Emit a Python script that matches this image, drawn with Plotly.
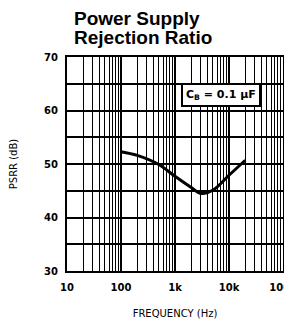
import plotly.graph_objects as go

# Data
freq_hz = [100, 200, 500, 1000, 2000, 3000, 5000, 10000, 20000]
psrr_db = [52.3, 51.6, 49.9, 47.7, 45.6, 44.5, 45.1, 47.9, 50.7]

x_tick_vals = [10, 100, 1000, 10000, 100000]
x_tick_text = ["10", "100", "1k", "10k", "100k"]
x_minor_vals = [m * d for d in [10, 100, 1000, 10000] for m in range(2, 10)]
y_tick_vals = [30, 40, 50, 60, 70]
y_minor_vals = [35, 45, 55, 65]
title_lines = ["Power Supply", "Rejection Ratio"]

fig = go.Figure()
fig.add_trace(go.Scatter(
    x=freq_hz, y=psrr_db, mode="lines",
    line=dict(color="black", width=3, shape="spline"),
    showlegend=False, hoverinfo="skip",
))

tick_font = dict(family="DejaVu Sans", size=10, color="black", weight="bold")

fig.update_xaxes(
    type="log", range=[0.99999, 5.00001], automargin=False,
    tickvals=x_tick_vals, ticktext=x_tick_text,
    tickfont=tick_font, ticks="", ticklabelstandoff=6,
    ticklabeloverflow="allow",
    showgrid=True, gridcolor="black", gridwidth=2,
    showline=True, linecolor="black", linewidth=2, mirror=True,
    minor=dict(tickvals=x_minor_vals, showgrid=True, gridcolor="black", gridwidth=1, ticks=""),
    title=dict(text="FREQUENCY (Hz)", font=dict(family="DejaVu Sans", size=10, color="black"), standoff=18),
    zeroline=False,
)
fig.update_yaxes(
    range=[30, 70], automargin=False,
    tickvals=y_tick_vals,
    tickfont=tick_font, ticks="", ticklabelstandoff=5,
    showgrid=True, gridcolor="black", gridwidth=2,
    showline=True, linecolor="black", linewidth=2, mirror=True,
    minor=dict(tickvals=y_minor_vals, showgrid=True, gridcolor="black", gridwidth=2, ticks=""),
    title=dict(text="PSRR (dB)", font=dict(family="DejaVu Sans", size=10, color="black"), standoff=25),
    zeroline=False,
)

fig.add_annotation(
    xref="paper", yref="paper", x=0.713, y=0.822,
    text="C<sub>B</sub> = 0.1 µF", showarrow=False,
    font=dict(family="DejaVu Sans", size=11, color="black", weight="bold"),
    bgcolor="white", bordercolor="black", borderwidth=2, borderpad=3,
    xanchor="center", yanchor="middle",
)

for line_text, ypos in zip(title_lines, [1.182, 1.093]):
    fig.add_annotation(
        xref="paper", yref="paper", x=0.023, y=ypos,
        text=line_text, showarrow=False,
        font=dict(family="Liberation Sans", size=19, color="black", weight="bold"),
        xanchor="left", yanchor="middle",
    )

# the page body has an 8px default margin; the figure is shifted by 8px,
# and extends a little past the right edge so the "100k" label is drawn
fig.update_layout(
    width=300, height=314,
    margin=dict(l=59, r=25, t=49, b=51),
    paper_bgcolor="white", plot_bgcolor="white",
)

fig.write_html("out.html")
